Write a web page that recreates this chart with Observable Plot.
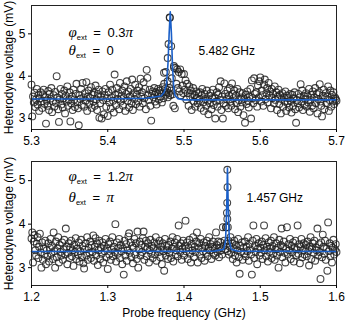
<!DOCTYPE html>
<html>
<head>
<meta charset="utf-8">
<script src="https://cdn.jsdelivr.net/npm/d3@7"></script>
<script src="https://cdn.jsdelivr.net/npm/@observablehq/plot@0.6"></script>
<style>
  html, body { margin: 0; padding: 0; background: #fff; }
  #chart { width: 346px; }
  #chart svg { display: block; }
</style>
</head>
<body>
<div id="chart"></div>
<script>
// ---------- Panel 1 (phi_ext = 0.3 pi, theta_ext = 0) ----------
const f1Start = 5.300, fStep = 0.001;
const v1 = [
  3.80,3.05,3.52,3.38,3.61,3.27,3.45,3.70,3.33,3.55,3.18,3.48,3.62,3.40,3.25,3.57,3.68,3.35,3.50,2.88,
  3.42,3.30,3.65,3.20,3.58,3.47,3.72,3.15,3.40,3.55,3.28,3.63,3.37,4.00,3.50,3.22,2.92,3.45,3.70,3.33,
  3.58,3.26,3.48,3.66,3.12,3.54,3.40,3.76,3.30,3.44,3.62,2.93,3.36,3.52,3.20,3.68,3.45,3.27,3.58,3.82,
  3.38,3.24,2.84,3.55,3.46,3.70,3.32,3.84,3.50,3.28,3.60,3.42,3.86,3.18,3.52,3.66,3.35,3.48,3.74,3.25,
  3.56,3.40,3.62,3.30,3.78,3.45,3.20,3.58,3.68,3.02,3.36,3.52,3.00,3.64,3.44,3.10,3.55,3.70,3.28,3.48,
  3.06,3.62,3.38,3.80,3.24,3.50,3.68,3.42,3.14,4.04,3.56,3.32,3.72,3.46,3.60,3.22,3.84,3.40,3.54,3.66,
  3.30,3.48,3.76,3.18,3.58,3.88,3.42,3.64,3.26,3.52,3.70,3.36,3.92,3.20,3.60,3.46,3.80,3.34,3.56,3.66,
  3.40,3.74,3.28,3.94,3.52,3.62,3.36,3.86,3.48,3.70,3.22,4.15,3.96,3.55,3.44,3.68,3.30,2.95,3.58,3.64,
  3.50,3.72,3.40,3.62,3.33,3.58,3.70,3.45,3.66,3.52,3.60,3.38,3.74,3.48,3.82,3.70,3.56,3.62,3.68,3.50,
  3.60,3.72,3.55,3.66,3.95,3.57,3.30,4.20,3.24,4.19,3.82,4.16,3.72,4.10,3.64,4.16,3.55,4.05,3.78,3.60,
  4.05,3.68,3.90,3.45,3.82,3.60,3.30,3.76,3.52,3.66,3.20,3.58,3.72,3.40,3.55,3.28,3.64,3.48,3.36,3.60,
  3.44,3.62,3.25,3.55,3.70,3.38,3.18,3.58,3.46,3.30,3.66,3.42,3.10,3.54,3.36,3.60,3.22,3.48,3.68,3.32,
  3.50,3.00,3.40,3.62,3.28,3.56,3.74,3.44,3.88,3.20,3.52,3.00,3.36,3.83,3.58,3.30,3.46,3.66,3.24,3.54,
  3.72,3.40,3.30,3.83,3.58,3.48,3.66,3.22,3.54,3.36,3.70,3.15,3.44,3.62,3.28,3.50,3.38,3.60,3.08,3.46,
  2.90,3.56,3.34,3.64,3.42,3.26,3.52,3.70,3.00,3.90,3.48,3.36,3.95,3.58,3.44,3.62,3.28,3.78,3.50,3.88,
  3.97,3.40,3.66,3.55,3.30,3.80,3.92,3.46,3.60,3.72,3.38,3.84,3.54,3.64,3.24,3.70,3.48,3.58,3.36,3.76,
  3.44,3.62,3.20,3.52,3.68,3.34,3.56,3.12,3.46,3.60,3.28,3.50,3.40,3.64,3.18,3.54,3.36,3.48,3.26,3.58,
  3.42,3.14,3.56,3.30,3.48,3.62,3.22,2.90,3.44,3.36,3.58,3.26,3.50,3.81,3.40,3.66,3.20,3.54,3.32,3.46,
  3.60,3.28,3.52,3.38,3.70,3.16,3.44,3.56,3.30,3.64,3.24,3.50,3.72,3.36,3.58,3.12,3.46,3.62,3.81,3.40,
  3.30,3.05,3.54,3.68,3.22,3.48,3.60,3.36,3.52,3.76,3.18,3.44,3.66,3.28,3.56,3.40,3.62,3.34,3.50,3.46,
  3.42
];
const peak1Freq = [5.4812, 5.4815, 5.4797, 5.4786, 5.4832, 5.4868, 5.4762, 5.4785, 5.4738];
const peak1Volt = [5.39, 5.38, 4.76, 4.43, 4.71, 4.24, 4.10, 3.88, 4.08];
const fit1Freq = [5.300, 5.400, 5.450, 5.470, 5.474, 5.477, 5.479, 5.4805, 5.482, 5.4835, 5.485, 5.4865, 5.488, 5.492, 5.500, 5.600, 5.700];
const fit1Volt = [3.46, 3.46, 3.48, 3.53, 3.62, 3.80, 4.30, 5.00, 5.52, 5.00, 4.20, 3.75, 3.55, 3.47, 3.44, 3.44, 3.44];
const x1Ticks = [5.3, 5.4, 5.5, 5.6, 5.7];

// ---------- Panel 2 (phi_ext = 1.2 pi, theta_ext = pi) ----------
const f2Start = 1.200;
const v2 = [
  3.67,3.81,3.12,3.60,3.75,3.40,3.28,3.55,3.70,3.22,3.48,3.78,3.35,3.00,3.58,3.18,3.44,3.30,3.62,3.08,
  3.40,3.26,3.56,3.14,3.46,3.66,3.32,3.50,3.20,3.81,3.38,3.00,3.60,3.24,3.44,3.70,3.12,3.52,3.36,3.28,
  3.58,3.18,3.42,3.64,3.30,3.90,3.48,3.08,3.34,3.56,3.22,3.46,3.62,3.26,3.40,3.04,3.52,3.36,3.68,3.20,
  3.44,3.30,3.58,3.14,3.38,3.64,3.24,3.50,3.10,2.98,3.42,3.56,3.28,3.70,3.18,3.46,3.34,3.60,3.22,3.52,
  3.36,3.74,3.16,3.48,3.68,3.28,3.56,3.06,3.40,3.62,3.20,3.46,3.32,3.58,3.12,3.50,3.38,3.66,3.24,3.44,
  2.97,3.54,3.30,3.60,3.18,3.42,3.70,3.26,3.48,3.36,4.00,3.14,3.58,3.32,3.46,3.66,3.22,3.52,3.38,3.08,
  3.44,2.84,3.62,3.28,3.54,3.16,3.40,3.72,3.79,3.34,3.58,3.24,3.50,3.10,3.46,3.66,3.30,3.56,3.20,3.83,
  3.00,3.42,3.60,3.28,3.52,3.36,3.68,3.83,3.18,3.48,3.62,3.26,3.44,3.56,3.12,3.40,3.64,3.32,3.50,3.22,
  3.46,3.58,3.30,3.70,3.16,3.42,3.54,3.36,3.62,3.24,3.48,3.08,3.56,3.38,2.93,3.66,3.28,3.50,3.40,3.20,
  3.52,3.34,3.60,3.22,3.44,3.70,3.14,3.48,3.58,3.30,3.40,3.66,3.26,3.97,3.50,3.36,3.56,3.18,3.44,3.62,
  3.28,3.50,4.08,3.38,3.58,3.20,3.46,3.64,3.32,3.12,3.54,3.40,3.70,3.24,3.48,3.36,3.60,3.81,3.12,3.44,
  3.56,3.30,3.66,3.22,3.46,3.38,3.58,3.16,3.50,3.34,3.62,3.26,3.44,3.70,3.40,3.54,3.20,3.48,3.60,3.32,
  3.44,3.28,3.81,3.52,3.36,3.60,3.24,3.46,3.58,3.40,3.30,3.93,3.50,3.62,3.42,3.93,3.55,3.38,3.62,3.30,
  3.48,3.70,3.34,3.56,3.20,3.44,3.62,3.28,3.52,3.12,3.40,3.66,3.24,2.86,3.50,3.36,3.58,3.18,3.46,3.32,
  3.60,3.26,3.48,3.38,3.70,3.16,3.54,3.42,3.30,2.84,3.62,3.97,3.22,3.50,3.36,3.66,3.08,3.44,3.56,3.28,
  3.46,3.34,3.60,3.20,3.52,3.97,3.40,3.68,3.26,3.48,3.14,3.58,3.36,3.44,3.62,3.22,3.50,3.32,3.70,3.18,
  3.42,3.56,3.28,3.46,3.00,3.64,3.36,3.52,3.90,3.24,3.48,3.60,3.34,3.12,3.44,3.93,3.30,3.54,3.40,3.66,
  3.20,3.50,3.36,3.58,3.14,3.46,3.62,3.28,3.42,3.97,3.32,3.54,3.10,3.48,3.66,3.24,3.40,3.56,3.30,3.44,
  3.52,3.26,3.60,3.38,3.05,3.48,3.70,3.20,3.44,3.56,3.34,3.62,3.16,3.46,3.40,3.90,3.28,3.54,3.36,2.74,
  3.58,3.24,3.76,3.48,3.32,3.62,3.18,3.44,2.93,4.04,3.38,3.56,3.26,3.50,3.12,3.46,3.64,3.30,3.42,3.54,
  3.36
];
const peak2Freq = [1.4568, 1.4571, 1.4567, 1.4563, 1.4568, 1.4556, 1.4575];
const peak2Volt = [5.25, 4.85, 4.49, 4.26, 4.12, 3.93, 3.93];
const fit2Freq = [1.200, 1.440, 1.452, 1.4545, 1.456, 1.457, 1.458, 1.4595, 1.462, 1.470, 1.600];
const fit2Volt = [3.37, 3.38, 3.42, 3.60, 4.40, 5.29, 4.40, 3.60, 3.42, 3.38, 3.37];
const x2Ticks = [1.2, 1.3, 1.4, 1.5, 1.6];

const yTicks = [3, 4, 5];

// ---------- helpers ----------
function gridRows(start, vals) {
  return vals.map((v, i) => ({f: +(start + i * fStep).toFixed(4), v}));
}
function pairRows(fs, vs) { return fs.map((f, i) => ({f, v: vs[i]})); }

const FONT = "'Liberation Sans', Arial, Helvetica, sans-serif";
const SERIF = "'Liberation Serif', 'DejaVu Serif', serif";
const dotStyle = {x: "f", y: "v", r: 3.4, fill: "none", stroke: "#222", strokeWidth: 1.1, strokeOpacity: 0.85};
const lineStyle = {x: "f", y: "v", stroke: "#1a5fc8", strokeWidth: 1.6};

function panel(opts) {
  const pts = gridRows(opts.start, opts.vals).concat(pairRows(opts.peakF, opts.peakV));
  const fit = pairRows(opts.fitF, opts.fitV);
  return Plot.plot({
    width: 346, height: 160,
    marginLeft: 31, marginRight: 10, marginTop: opts.mt, marginBottom: opts.mb,
    style: {fontFamily: FONT, fontSize: "12px", color: "#000", background: "#fff", overflow: "visible"},
    x: {domain: opts.xDomain},
    y: {domain: opts.yDomain},
    marks: [
      Plot.dot(pts, dotStyle),
      Plot.line(fit, lineStyle),
      Plot.frame({stroke: "#222", strokeWidth: 1}),
      Plot.axisX({ticks: opts.xTicks, tickSize: 3, tickPadding: 4, tickFormat: d => d.toFixed(1),
                  label: opts.xLabel, labelAnchor: "center", labelArrow: "none", labelOffset: 31}),
      Plot.axisY({ticks: yTicks, tickSize: 3, tickPadding: 3, tickFormat: d => String(d),
                  label: "Heterodyne voltage (mV)", labelAnchor: "center", labelArrow: "none", labelOffset: 27}),
      Plot.text([opts.phiKey], {frameAnchor: "top-left", dx: 37, dy: opts.phiDy, lineAnchor: "middle", textAnchor: "start", fontSize: 13}),
      Plot.text([opts.thetaKey], {frameAnchor: "top-left", dx: 37, dy: opts.thetaDy, lineAnchor: "middle", textAnchor: "start", fontSize: 13}),
      Plot.text([opts.freqLabel], {frameAnchor: "top-left", dx: opts.freqDx, dy: opts.freqDy, lineAnchor: "middle", textAnchor: "start", fontSize: 12})
    ]
  });
}

function mathify(svg, key, sym, rest, piEnd) {
  d3.select(svg).selectAll("text").filter(function() { return this.textContent === key; }).each(function() {
    const t = d3.select(this);
    t.text(null);
    t.append("tspan").attr("font-family", SERIF).attr("font-style", "italic").attr("font-size", 15).text(sym);
    t.append("tspan").attr("font-size", 7.5).attr("dy", 3).text("ext");
    t.append("tspan").attr("dy", -3).attr("font-size", 13).text("\u2002=\u2002" + rest);
    if (piEnd) t.append("tspan").attr("font-family", SERIF).attr("font-style", "italic").attr("font-size", 15).text("\u03c0");
  });
}

const p1 = panel({
  start: f1Start, vals: v1, peakF: peak1Freq, peakV: peak1Volt, fitF: fit1Freq, fitV: fit1Volt,
  xDomain: [5.3, 5.7], yDomain: [2.74, 5.67], xTicks: x1Ticks, xLabel: null, mt: 5, mb: 31,
  phiKey: "PHI1", thetaKey: "THETA1", phiDy: 27, thetaDy: 45,
  freqLabel: "5.482\u2009GHz", freqDx: 167, freqDy: 46
});
mathify(p1, "PHI1", "\u03c6", "0.3", true);
mathify(p1, "THETA1", "\u03b8", "0", false);

const p2 = panel({
  start: f2Start, vals: v2, peakF: peak2Freq, peakV: peak2Volt, fitF: fit2Freq, fitV: fit2Volt,
  xDomain: [1.2, 1.6], yDomain: [2.59, 5.44], xTicks: x2Ticks, xLabel: "Probe frequency (GHz)", mt: 1, mb: 35,
  phiKey: "PHI2", thetaKey: "THETA2", phiDy: 15, thetaDy: 36,
  freqLabel: "1.457\u2009GHz", freqDx: 215, freqDy: 37
});
mathify(p2, "PHI2", "\u03c6", "1.2", true);
mathify(p2, "THETA2", "\u03b8", "", true);

document.getElementById("chart").append(p1, p2);
</script>
</body>
</html>
